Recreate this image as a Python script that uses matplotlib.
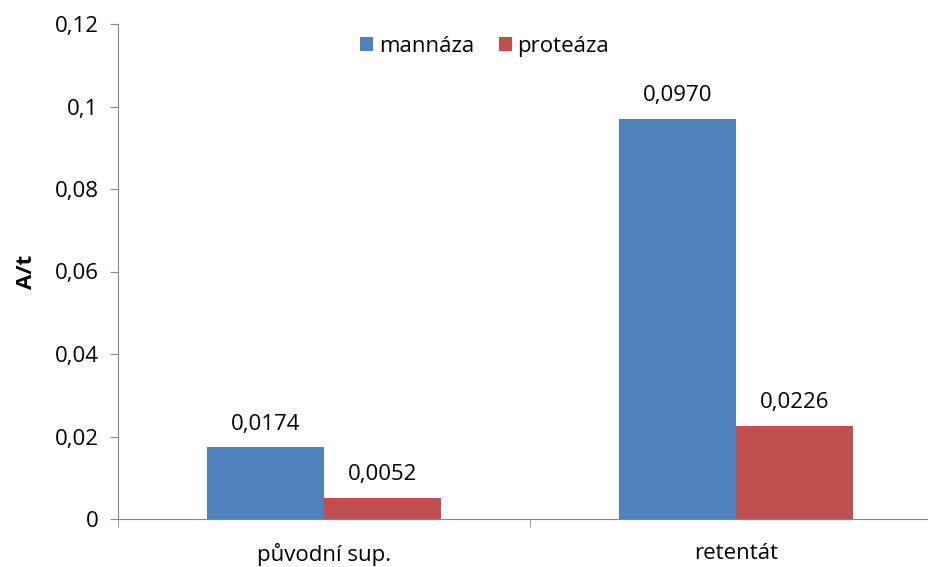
import numpy as np
import matplotlib.pyplot as plt

categories = ["původní sup.", "retentát"]
mannaza = [0.0174, 0.0970]
proteaza = [0.0052, 0.0226]
series_names = ["mannáza", "proteáza"]
yticks = [0, 0.02, 0.04, 0.06, 0.08, 0.1, 0.12]

plt.rcParams['font.family'] = ['Open Sans', 'DejaVu Sans']

fig = plt.figure(figsize=(9.29, 5.67), dpi=100)
ax = fig.add_axes([118 / 929, 1 - 519 / 567, 824 / 929, 495 / 567])

x = np.arange(len(categories))
w = 0.285
b1 = ax.bar(x - w / 2, mannaza, w, color="#4f81bd", label=series_names[0])
b2 = ax.bar(x + w / 2, proteaza, w, color="#c0504d", label=series_names[1])

# value labels above each bar, decimal comma
for bars, vals in ((b1, mannaza), (b2, proteaza)):
    for rect, v in zip(bars, vals):
        ax.annotate(f"{v:.4f}".replace(".", ","),
                    (rect.get_x() + rect.get_width() / 2, v),
                    xytext=(0, 9), textcoords="offset points",
                    ha="center", va="bottom", fontsize=16)

ax.set_xlim(-0.5, len(categories) - 0.5)
ax.set_ylim(0, 0.12)
ax.set_yticks(yticks)
ax.set_yticklabels([str(t).replace(".", ",") if t else "0" for t in yticks], fontsize=16)
ax.set_xticks(x)
ax.set_xticklabels(categories, fontsize=16)
ax.set_xticks(np.arange(len(categories) + 1) - 0.5, minor=True)
ax.tick_params(axis="x", which="major", length=0, pad=17)
ax.tick_params(axis="x", which="minor", length=6, color="#888888")
ax.tick_params(axis="y", length=6, color="#888888", pad=8)
ax.set_ylabel("A/t", fontsize=16, fontweight="bold", labelpad=13)

for s in ("top", "right"):
    ax.spines[s].set_visible(False)
for s in ("left", "bottom"):
    ax.spines[s].set_color("#888888")

ax.legend(loc="center", bbox_to_anchor=(0.445, 0.955), ncol=2, frameon=False,
          fontsize=16, handlelength=0.6, handleheight=0.6, handletextpad=0.25,
          columnspacing=1.1)

fig.savefig("out.png", dpi=100)
